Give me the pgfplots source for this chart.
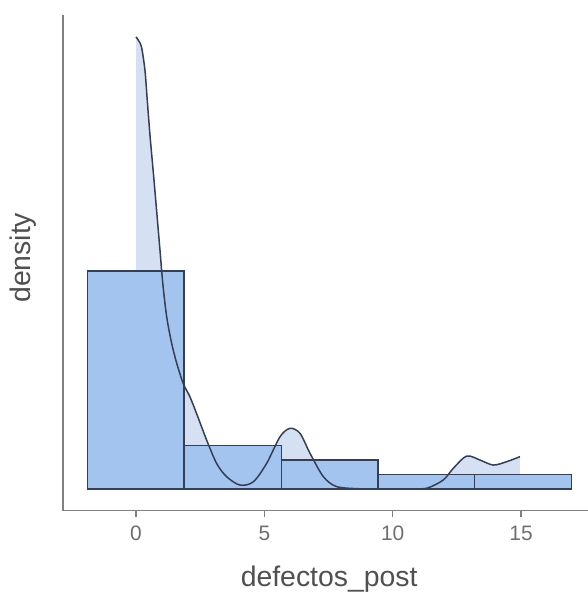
\documentclass[border=0pt]{standalone}
\usepackage{pgfplots}
\usepackage{pgfplotstable}
\pgfplotsset{compat=1.18}
\usepackage{fontspec}
\setmainfont{Liberation Sans}
\definecolor{barfill}{RGB}{164,196,240}
\definecolor{densfill}{RGB}{214,224,243}
\definecolor{outl}{RGB}{52,62,84}
\definecolor{axisgray}{RGB}{128,128,128}
\definecolor{tickgray}{RGB}{110,110,110}
\definecolor{labgray}{RGB}{80,80,80}
\pgfplotstableread{
x d
0.00 0.377
0.10 0.374
0.22 0.368
0.35 0.349
0.44 0.324
0.545 0.295
0.675 0.264
0.80 0.233
0.935 0.199
1.05 0.170
1.20 0.143
1.39 0.1215
1.585 0.105
1.84 0.088
2.10 0.077
2.36 0.063
2.75 0.041
3.14 0.0214
3.53 0.0103
4.05 0.0033
4.57 0.006
5.09 0.0214
5.61 0.0436
6.00 0.0506
6.39 0.0464
6.78 0.0298
7.30 0.0103
7.82 0.002
8.73 0.0002
9.80 0.0
10.80 0.0002
11.35 0.0008
11.97 0.0075
12.36 0.0172
12.88 0.0275
13.40 0.0242
13.92 0.0200
14.44 0.0228
14.96 0.0270
}\densitytable
\pgfplotstableread{
x h
-1.9 0.1818
1.87 0.0364
5.66 0.0242
9.43 0.0121
13.2 0.0121
16.98 0.0121
}\bartable
\begin{document}
\begin{tikzpicture}
\begin{axis}[
  scale only axis, width=525bp, height=495.5bp,
  xmin=-2.844, xmax=17.61, ymin=-0.0179, ymax=0.3953,
  axis x line*=bottom, axis y line*=left,
  axis line style={-, draw=axisgray, line width=1.6bp},
  xtick={0,5,10,15}, ytick=\empty,
  tick style={draw=axisgray, line width=1.4bp},
  tick align=outside, major tick length=6bp,
  /pgf/number format/assume math mode=true,
  x tick label style={font=\fontsize{21}{25}\selectfont, text=tickgray, yshift=-6bp},
  xlabel={defectos\_post}, ylabel={density},
  xlabel style={at={(axis description cs:0.507,-0.1534)}, anchor=base, font=\fontsize{28.5}{33}\selectfont, text=labgray},
  ylabel style={at={(axis description cs:-0.0762,0.51)}, anchor=center, font=\fontsize{28.5}{33}\selectfont, text=labgray},
  clip=false,
]
\addplot[draw=none, fill=densfill] table[x=x, y=d] {\densitytable} \closedcycle;
\addplot[ybar interval, fill=barfill, draw=outl, line width=1.2bp] table[x=x, y=h] {\bartable};
\addplot[outl, line width=1.5bp, smooth, tension=0.5] table[x=x, y=d] {\densitytable};
\coordinate (SW) at (rel axis cs:0,0);
\coordinate (NE) at (rel axis cs:1,1);
\end{axis}
\pgfresetboundingbox
\useasboundingbox ([xshift=-63bp,yshift=-83.5bp]SW) rectangle ([yshift=15bp]NE);
\end{tikzpicture}
\end{document}
